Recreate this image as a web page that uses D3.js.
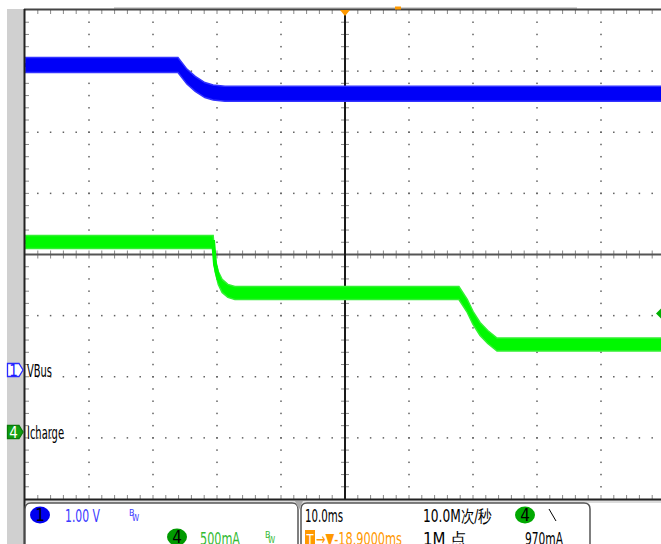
<!DOCTYPE html>
<html>
<head>
<meta charset="utf-8">
<script src="https://cdn.jsdelivr.net/npm/d3@7"></script>
<style>
  body { margin: 0; background: #fff; }
  svg { display: block; }
  text { font-family: "Liberation Sans Narrow", "DejaVu Sans Condensed", sans-serif; }
</style>
</head>
<body>
<div id="chart"></div>
<script>
// channel 1 (VBus), 1.00 V/div, time in ms relative to screen centre
var vbusTime = [-50, -26.1, -24.7, -23.4, -21.9, -20.6, -18.75, 50];
var vbusVolts = [4.99, 4.99, 4.8, 4.68, 4.58, 4.54, 4.52, 4.52];

// channel 4 (Icharge), 500 mA/div
var ichgTime = [-50, -20.6, -20.3, -19.8, -19.2, -18.3, -17.2, 17.8, 19.1, 20.0, 21.1, 22.3, 23.75, 50];
var ichgMilliamps = [1555, 1555, 1367, 1260, 1195, 1154, 1137, 1137, 1031, 933, 843, 777, 716, 716];

var triggerLevel = 970; // mA
var vScale = 1.0; // V per div
var iScale = 500; // mA per div

var W = 661, H = 544;
var plotLeft = 25, plotTop = 10, divX = 64, divY = 61.125;
var plotRight = plotLeft + 10 * divX, plotBottom = plotTop + 8 * divY;
var cx = plotLeft + 5 * divX, cy = plotTop + 4 * divY;
var gnd1 = 370, gnd4 = 432;

var x = d3.scaleLinear().domain([-50, 50]).range([plotLeft, plotRight]);
var yV = d3.scaleLinear().domain([0, vScale]).range([gnd1, gnd1 - divY]);
var yI = d3.scaleLinear().domain([0, iScale]).range([gnd4, gnd4 - divY]);

var svg = d3.select("#chart").append("svg").attr("width", W).attr("height", H);

// gray frame parts
svg.append("rect").attr("x", 7).attr("y", plotTop - 1).attr("width", plotLeft - 8).attr("height", H).attr("fill", "#d0d0d0");
svg.append("rect").attr("x", 114).attr("y", 7).attr("width", 463).attr("height", 2.5).attr("fill", "#d4d4d4");
svg.append("rect").attr("x", plotLeft).attr("y", plotBottom + 1).attr("width", W - plotLeft).attr("height", 3).attr("fill", "#dcdcdc");

// dotted grid
var g = svg.append("g").attr("fill", "#606060");
for (var i = 1; i < 10; i++) {
  if (i == 5) continue;
  for (var k = 1; k < 40; k++) {
    g.append("rect").attr("x", plotLeft + i * divX - 0.75).attr("y", plotTop + k * divY / 5 - 0.75).attr("width", 1.5).attr("height", 1.5);
  }
}
for (var j = 1; j < 8; j++) {
  if (j == 4) continue;
  for (var k = 1; k < 50; k++) {
    g.append("rect").attr("x", plotLeft + k * divX / 5 - 0.75).attr("y", plotTop + j * divY - 0.75).attr("width", 1.5).attr("height", 1.5);
  }
}

// minor ticks on border and centre lines
var ticks = svg.append("g").attr("stroke", "#888").attr("stroke-width", 1);
for (var k = 1; k < 50; k++) {
  var tx = plotLeft + k * divX / 5;
  ticks.append("line").attr("x1", tx).attr("x2", tx).attr("y1", plotTop).attr("y2", plotTop + 4);
  ticks.append("line").attr("x1", tx).attr("x2", tx).attr("y1", plotBottom).attr("y2", plotBottom - 4);
  ticks.append("line").attr("x1", tx).attr("x2", tx).attr("y1", cy - 4).attr("y2", cy + 4);
}
for (var k = 1; k < 40; k++) {
  var ty = plotTop + k * divY / 5;
  ticks.append("line").attr("x1", plotLeft).attr("x2", plotLeft + 4).attr("y1", ty).attr("y2", ty);
  ticks.append("line").attr("x1", cx - 4).attr("x2", cx + 4).attr("y1", ty).attr("y2", ty);
}

// centre cross
svg.append("line").attr("x1", plotLeft).attr("x2", W).attr("y1", cy).attr("y2", cy).attr("stroke", "#555").attr("stroke-width", 2);
svg.append("line").attr("x1", cx).attr("x2", cx).attr("y1", plotTop).attr("y2", plotBottom).attr("stroke", "#1a1a1a").attr("stroke-width", 2);

// traces (noise band drawn as an area around the mean)
function band(data, xs, ys, half, color, edge) {
  var pts = data[0].map(function (t, i) { return [t, data[1][i]]; });
  var area = d3.area()
    .x(function (d) { return xs(d[0]); })
    .y0(function (d) { return ys(d[1]) - half; })
    .y1(function (d) { return ys(d[1]) + half; });
  var line = d3.line()
    .x(function (d) { return xs(d[0]); })
    .y(function (d) { return ys(d[1]); });
  svg.append("path").datum(pts).attr("d", area).attr("fill", color).attr("stroke", edge).attr("stroke-width", 1.5);
  svg.append("path").datum(pts).attr("d", line).attr("fill", "none").attr("stroke", color).attr("stroke-width", 4);
}
band([vbusTime, vbusVolts], x, yV, 7.5, "#0000f8", "#3333ff");
band([ichgTime, ichgMilliamps], x, yI, 6.5, "#00f800", "#33f033");

// borders
svg.append("line").attr("x1", plotLeft - 1).attr("x2", W).attr("y1", plotTop - 0.5).attr("y2", plotTop - 0.5).attr("stroke", "#444").attr("stroke-width", 2);
svg.append("line").attr("x1", plotLeft - 1).attr("x2", W).attr("y1", plotBottom + 0.5).attr("y2", plotBottom + 0.5).attr("stroke", "#222").attr("stroke-width", 2);
svg.append("line").attr("x1", plotLeft - 0.5).attr("x2", plotLeft - 0.5).attr("y1", plotTop - 1).attr("y2", H).attr("stroke", "#222").attr("stroke-width", 2);

// trigger markers
svg.append("path").attr("d", "M" + (cx - 5) + "," + plotTop + "L" + (cx + 5) + "," + plotTop + "L" + cx + "," + (plotTop + 6) + "Z").attr("fill", "#ff9900");
svg.append("rect").attr("x", 395).attr("y", 6.5).attr("width", 6).attr("height", 3).attr("fill", "#ff9900");
var ty4 = yI(triggerLevel);
svg.append("path").attr("d", "M656," + ty4 + "L663," + (ty4 - 7) + "L663," + (ty4 + 7) + "Z").attr("fill", "#00b000");

// channel ground markers and labels
function marker(yc, num, fill, stroke, txt, label, len) {
  svg.append("path")
    .attr("d", "M7.5," + (yc - 6.5) + "L19," + (yc - 6.5) + "L23," + yc + "L19," + (yc + 6.5) + "L7.5," + (yc + 6.5) + "Z")
    .attr("fill", fill).attr("stroke", stroke).attr("stroke-width", 1.3);
  svg.append("text").attr("x", 13.5).attr("y", yc + 5.5).attr("text-anchor", "middle")
    .attr("font-size", 15).attr("fill", txt).text(num);
  svg.append("text").attr("x", 27).attr("y", yc + 7).attr("font-size", 17).attr("fill", "#000")
    .attr("textLength", len).attr("lengthAdjust", "spacingAndGlyphs").text(label);
}
marker(gnd1, "1", "#fff", "#2a2aff", "#1a1aff", "VBus", 25);
marker(gnd4, "4", "#10a010", "#0a7a0a", "#fff", "Icharge", 37);

// bottom info boxes
function box(x0, x1) {
  svg.append("path")
    .attr("d", "M" + x0 + "," + (H + 5) + "L" + x0 + "," + 509 + "Q" + x0 + ",503 " + (x0 + 6) + ",503L" + (x1 - 6) + ",503Q" + x1 + ",503 " + x1 + ",509L" + x1 + "," + (H + 5))
    .attr("fill", "#fff").attr("stroke", "#555").attr("stroke-width", 1.5);
}
box(plotLeft, 298);
box(301, 590);
svg.append("path").attr("d", "M295,501L303,501L299,510Z").attr("fill", "#aaa");

function label(x0, y0, str, color, len, size) {
  var t = svg.append("text").attr("x", x0).attr("y", y0).attr("fill", color).attr("font-size", size || 17).text(str);
  if (len) t.attr("textLength", len).attr("lengthAdjust", "spacingAndGlyphs");
  return t;
}
function badge(xc, yc, num, fill) {
  svg.append("ellipse").attr("cx", xc).attr("cy", yc).attr("rx", 10).attr("ry", 8.5).attr("fill", fill);
  svg.append("text").attr("x", xc).attr("y", yc + 6).attr("text-anchor", "middle").attr("font-size", 17).attr("fill", "#000").text(num);
}
function bw(x0, y0, color) {
  label(x0, y0, "B", color, null, 9);
  label(x0 + 3, y0 + 5, "W", color, null, 8);
}

badge(40, 515, "1", "#0000f0");
label(65, 522, "1.00 V", "#3b3bff", 35);
bw(129, 516, "#3b3bff");
badge(177, 537, "4", "#009a00");
label(200, 545, "500mA", "#33bb33", 40);
bw(265, 538, "#33bb33");

label(305, 522, "10.0ms", "#000", 38);
label(423, 522, "10.0M次/秒", "#000", 69);
badge(525, 515, "4", "#00a800");
svg.append("line").attr("x1", 549).attr("y1", 509).attr("x2", 556).attr("y2", 521).attr("stroke", "#000").attr("stroke-width", 1);

svg.append("rect").attr("x", 305).attr("y", 530).attr("width", 10).attr("height", 16).attr("fill", "#ff9900");
label(306.5, 544, "T", "#fff", 7, 14);
label(316, 545, "→▼-18.9000ms", "#ff9900", 86);
label(423, 545, "1M 点", "#000", 44);
label(525, 545, "970mA", "#000", 38);
</script>
</body>
</html>
